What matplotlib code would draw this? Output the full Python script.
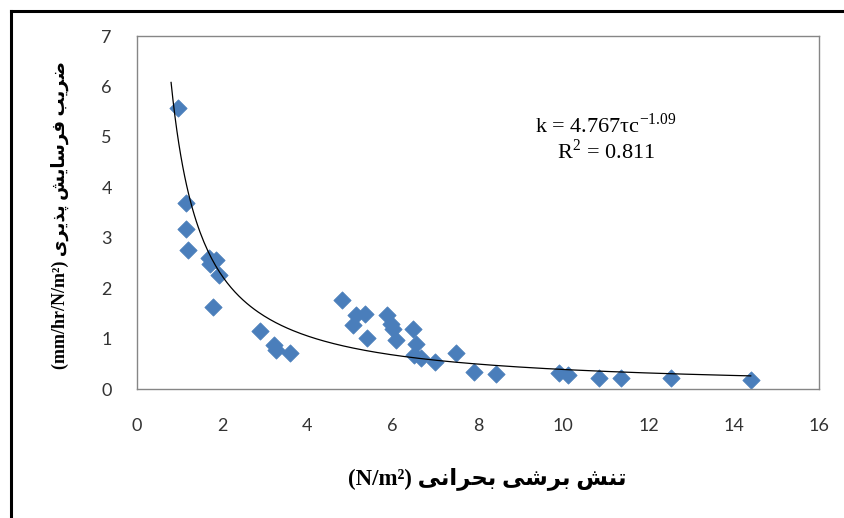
"""Erodibility coefficient vs critical shear stress, with power-law fit."""
import matplotlib
matplotlib.use("Agg")
import matplotlib.pyplot as plt
import numpy as np
from matplotlib.lines import Line2D

# critical shear stress (N/m2) and erodibility coefficient (mm/hr/N/m2)
tau_c = [0.97, 1.15, 1.15, 1.20, 1.68, 1.72, 1.86, 1.93, 1.79, 2.89,
         3.22, 3.27, 3.60, 4.82, 5.06, 5.15, 5.34, 5.39, 5.86, 5.95,
         6.00, 6.07, 6.47, 6.54, 6.49, 6.66, 6.99, 7.48, 7.90, 8.42,
         9.91, 10.12, 10.85, 11.36, 12.52, 14.40]
k_val = [5.58, 3.69, 3.17, 2.75, 2.60, 2.48, 2.56, 2.26, 1.63, 1.16,
         0.87, 0.77, 0.71, 1.77, 1.27, 1.47, 1.48, 1.01, 1.47, 1.29,
         1.20, 0.98, 1.19, 0.89, 0.68, 0.61, 0.53, 0.71, 0.33, 0.30,
         0.32, 0.27, 0.22, 0.21, 0.21, 0.17]
fit_a, fit_b = 4.767, -1.09
fit_range = (0.8, 14.4)
x_ticks = [0, 2, 4, 6, 8, 10, 12, 14, 16]
y_ticks = [0, 1, 2, 3, 4, 5, 6, 7]

# minimal Persian shaping (matplotlib has no bidi/shaping)
FORMS = {  # isolated, final, initial, medial
    "ا": ("\uFE8D", "\uFE8E", None, None),
    "ب": ("\uFE8F", "\uFE90", "\uFE91", "\uFE92"),
    "پ": ("\uFB56", "\uFB57", "\uFB58", "\uFB59"),
    "ت": ("\uFE95", "\uFE96", "\uFE97", "\uFE98"),
    "ح": ("\uFEA1", "\uFEA2", "\uFEA3", "\uFEA4"),
    "ذ": ("\uFEAB", "\uFEAC", None, None),
    "ر": ("\uFEAD", "\uFEAE", None, None),
    "س": ("\uFEB1", "\uFEB2", "\uFEB3", "\uFEB4"),
    "ش": ("\uFEB5", "\uFEB6", "\uFEB7", "\uFEB8"),
    "ض": ("\uFEBD", "\uFEBE", "\uFEBF", "\uFEC0"),
    "ف": ("\uFED1", "\uFED2", "\uFED3", "\uFED4"),
    "ن": ("\uFEE5", "\uFEE6", "\uFEE7", "\uFEE8"),
    "ی": ("\uFBFC", "\uFBFD", "\uFBFE", "\uFBFF"),
}


def shape(text):
    out = []
    for i, ch in enumerate(text):
        if ch not in FORMS:
            out.append(ch)
            continue
        prev = text[i - 1] if i > 0 else ""
        nxt = text[i + 1] if i + 1 < len(text) else ""
        join_prev = prev in FORMS and FORMS[prev][2] is not None
        join_next = nxt in FORMS and FORMS[ch][2] is not None
        iso, fin, ini, med = FORMS[ch]
        if join_prev and join_next:
            out.append(med)
        elif join_prev:
            out.append(fin)
        elif join_next:
            out.append(ini)
        else:
            out.append(iso)
    return "".join(out)[::-1]


xlabel = "(N/m²) " + shape("تنش برشی بحرانی")
ylabel = "(mm/hr/N/m²) " + shape("ضریب فرسایش پذیری")

plt.rcParams["mathtext.fontset"] = "stix"
fig = plt.figure(figsize=(8.44, 5.18), dpi=100)
ax = fig.add_axes([0.1623, 0.249, 0.808, 0.6815])

ax.scatter(tau_c, k_val, marker="D", s=78, color="#4A7EBB",
           edgecolors="#4A7EBB", linewidths=0.5, zorder=2)

xf = np.linspace(fit_range[0], fit_range[1], 300)
ax.plot(xf, fit_a * xf ** fit_b, color="black", lw=0.9, zorder=3)

ax.set_xlim(0, 16)
ax.set_ylim(0, 7)
ax.set_xticks(x_ticks)
ax.set_yticks(y_ticks)
for s in ax.spines.values():
    s.set_color("#868686")
    s.set_linewidth(1.0)
ax.tick_params(length=0, labelsize=13, colors="#333333")
ax.tick_params(axis="x", pad=21)
ax.tick_params(axis="y", pad=18)
for lab in ax.get_xticklabels() + ax.get_yticklabels():
    lab.set_family("Lato")

ax.text(11.0, 5.22, "k = 4.767τc$^{\\mathregular{-1.09}}$", ha="center",
        va="center", fontsize=16, family="Liberation Serif")
ax.text(11.0, 4.70, "R$^{\\mathregular{2}}$ = 0.811", ha="center",
        va="center", fontsize=16, family="Liberation Serif")

fig.text(0.577, 0.077, xlabel, ha="center", va="center", fontsize=16.5,
         fontweight="bold", family=["Liberation Serif", "DejaVu Sans"])
fig.text(0.071, 0.585, ylabel, ha="center", va="center", fontsize=13,
         rotation=90, fontweight="bold",
         family=["Liberation Serif", "DejaVu Sans"])

# outer frame (top and left edges)
fig.add_artist(Line2D([0.013, 1.0], [0.979, 0.979], transform=fig.transFigure,
                      color="black", lw=2.2))
fig.add_artist(Line2D([0.013, 0.013], [0.0, 0.979], transform=fig.transFigure,
                      color="black", lw=2.2))

fig.savefig("out.png", dpi=100)
